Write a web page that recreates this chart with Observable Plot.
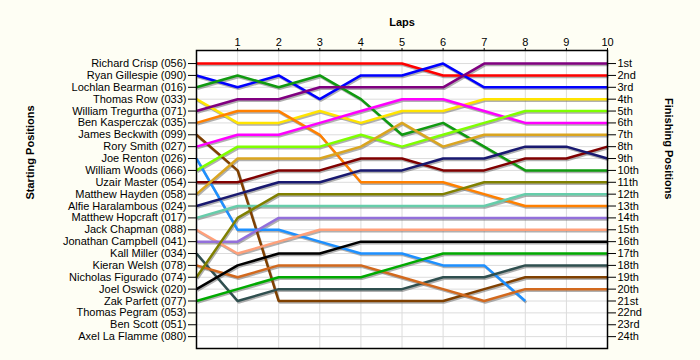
<!DOCTYPE html>
<html><head><meta charset="utf-8">
<script src="https://cdn.jsdelivr.net/npm/d3@7"></script>
<script src="https://cdn.jsdelivr.net/npm/@observablehq/plot@0.6"></script>
<style>html,body{margin:0;padding:0;background:#fefef4;}</style>
</head><body><div id="chart"></div>
<script>
const laps = [0,1,2,3,4,5,6,7,8,9,10];
const lapTicks = [1,2,3,4,5,6,7,8,9,10];
const drivers = [
  "Richard Crisp (056)","Ryan Gillespie (090)","Lochlan Bearman (016)","Thomas Row (033)",
  "William Tregurtha (071)","Ben Kasperczak (035)","James Beckwith (099)","Rory Smith (027)",
  "Joe Renton (026)","William Woods (066)","Uzair Master (054)","Matthew Hayden (058)",
  "Alfie Haralambous (024)","Matthew Hopcraft (017)","Jack Chapman (088)","Jonathan Campbell (041)",
  "Kall Miller (034)","Kieran Welsh (078)","Nicholas Figurado (074)","Joel Oswick (020)",
  "Zak Parfett (077)","Thomas Pegram (053)","Ben Scott (051)","Axel La Flamme (080)"
];
const finishLabels = ["1st","2nd","3rd","4th","5th","6th","7th","8th","9th","10th","11th","12th",
  "13th","14th","15th","16th","17th","18th","19th","20th","21st","22nd","23rd","24th"];
const colors = ["#ff0000","#0000ff","#109a10","#ffe400","#800080","#ff8000","#804000","#ff00ff",
  "#1e90ff","#7fff00","#800000","#daa520","#191970","#66cdaa","#ffa07a","#9370db",
  "#2f4f4f","#d2691e","#808000","#000000","#00aa00",null,null,null];
// position of each driver at laps 0..10
const positions = [
  [1,1,1,1,1,1,2,2,2,2,2],
  [2,3,2,4,2,2,1,3,3,3,3],
  [3,2,3,2,4,7,6,8,10,10,10],
  [4,6,6,5,6,5,5,4,4,4,4],
  [5,4,4,3,3,3,3,1,1,1,1],
  [6,5,5,7,11,11,11,12,13,13,13],
  [7,10,21,21,21,21,21,20,19,19,19],
  [8,7,7,6,5,4,4,5,6,6,6],
  [9,15,15,16,17,17,18,18,21,null,null],
  [10,8,8,8,7,8,7,6,5,5,5],
  [11,11,10,10,9,9,10,10,9,9,8],
  [12,9,9,9,8,6,8,7,7,7,7],
  [13,12,11,11,10,10,9,9,8,8,9],
  [14,13,13,13,13,13,13,13,12,12,12],
  [15,17,16,15,15,15,15,15,15,15,15],
  [16,16,14,14,14,14,14,14,14,14,14],
  [17,21,20,20,20,20,19,19,18,18,18],
  [18,19,18,18,18,19,20,21,20,20,20],
  [19,14,12,12,12,12,12,11,11,11,11],
  [20,18,17,17,16,16,16,16,16,16,16],
  [21,20,19,19,19,18,17,17,17,17,17],
  [],[],[]
];

const rows = [];
positions.forEach((ps, i) => ps.forEach((p, j) => {
  if (p != null) rows.push({driver: drivers[i], lap: laps[j], pos: p, color: colors[i], idx: i});
}));
const posTicks = d3.range(1, drivers.length + 1);

const lineMarks = [];
const shadowMarks = [];
drivers.forEach((d, i) => {
  const data = rows.filter(r => r.idx === i);
  if (!data.length) return;
  shadowMarks.push(Plot.line(data, {x: "lap", y: "pos", stroke: "#707070", strokeOpacity: 0.55,
    strokeWidth: 2.5, dx: 1, dy: 1.5, strokeLinejoin: "miter", strokeLinecap: "butt"}));
  lineMarks.push(Plot.line(data, {x: "lap", y: "pos", stroke: colors[i],
    strokeWidth: 2.5, strokeLinejoin: "miter", strokeLinecap: "butt"}));
});

const chart = Plot.plot({
  width: 700, height: 360,
  marginLeft: 196, marginRight: 93, marginTop: 50, marginBottom: 12,
  style: {background: "#fefef4", fontFamily: "'Liberation Sans', Arial, sans-serif", fontSize: "11px", color: "#000"},
  x: {domain: [0, 10]},
  y: {domain: [-0.1, 25], reverse: true},
  marks: [
    Plot.frame({fill: "white", stroke: null}),
    Plot.gridX(lapTicks.slice(0, -1), {stroke: "#dcdcdc", strokeOpacity: 1}),
    Plot.gridY(posTicks, {stroke: "#dcdcdc", strokeOpacity: 1}),
    ...shadowMarks,
    ...lineMarks,
    Plot.frame({stroke: "#000", strokeWidth: 1.5}),
    Plot.axisX(lapTicks, {anchor: "top", tickSize: 3, tickPadding: 2, label: null, fontSize: 11}),
    Plot.axisY(posTicks, {anchor: "left", tickSize: 8, tickPadding: 2, label: null,
      tickFormat: p => drivers[p - 1], fontSize: 11}),
    Plot.axisY(posTicks, {anchor: "right", tickSize: 8, tickPadding: 2, label: null,
      tickFormat: p => finishLabels[p - 1], fontSize: 11}),
    Plot.text(["Laps"], {frameAnchor: "top", dy: -32, fontWeight: "bold", fontSize: 11}),
    Plot.text(["Starting Positions"], {frameAnchor: "left", dx: -166, rotate: -90, fontWeight: "bold", fontSize: 11}),
    Plot.text(["Finishing Positions"], {frameAnchor: "right", dx: 61, rotate: 90, fontWeight: "bold", fontSize: 11})
  ]
});
document.getElementById("chart").append(chart);
</script>
</body></html>
